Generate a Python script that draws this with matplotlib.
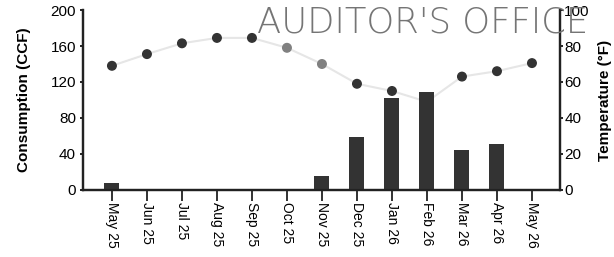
import numpy as np
import matplotlib
matplotlib.use("Agg")
import matplotlib.pyplot as plt
from matplotlib import font_manager

months = ["May 25", "Jun 25", "Jul 25", "Aug 25", "Sep 25", "Oct 25", "Nov 25",
          "Dec 25", "Jan 26", "Feb 26", "Mar 26", "Apr 26", "May 26"]
consumption = [8, 0, 0, 0, 0, 0, 15, 59, 102, 109, 44, 51, 0]
temperature = [69, 75.5, 81.5, 84.5, 84.5, 79, 70, 59, 55, 49, 63, 66, 70.5]
temp_colors = ["#333333"] * 5 + ["#808080", "#808080"] + ["#333333"] * 6

names = {f.name for f in font_manager.fontManager.ttflist}
font = "Liberation Sans Narrow" if "Liberation Sans Narrow" in names else "Liberation Sans"
plt.rcParams["font.family"] = [font, "DejaVu Sans"]

fig = plt.figure(figsize=(6.14, 2.57), dpi=100)
ax1 = fig.add_axes([0.135, 0.261, 0.777, 0.700])
ax2 = ax1.twinx()
ax1.set_zorder(2)
ax2.set_zorder(1)
ax1.patch.set_visible(False)

x = np.arange(len(months))
ax1.bar(x, consumption, width=0.43, color="#333333")
ax2.plot(x, temperature, color="#e6e6e6", lw=1.5, zorder=1)
ax2.scatter(x, temperature, s=38, c=temp_colors, zorder=2)

ax1.set_xlim(-0.83, 12.8)
ax1.set_ylim(0, 200)
ax2.set_ylim(0, 100)
ax1.set_yticks([0, 40, 80, 120, 160, 200])
ax2.set_yticks([0, 20, 40, 60, 80, 100])
ax1.set_xticks(x)
ax1.set_xticklabels(months, rotation=270, fontsize=10)
ax1.tick_params(axis="x", length=8, width=1.3, color="#222222", pad=1)
ax1.tick_params(axis="y", length=2, width=1.2, labelsize=11, pad=3)
ax2.tick_params(axis="y", length=2, width=1.2, labelsize=11, pad=1)

for ax in (ax1, ax2):
    ax.spines["top"].set_visible(False)
    for s in ("left", "right", "bottom"):
        ax.spines[s].set_linewidth(1.6)
        ax.spines[s].set_color("#222222")

ax1.set_ylabel("Consumption (CCF)", fontsize=11, fontweight="bold", labelpad=14)
ax2.set_ylabel("Temperature (°F)", fontsize=11, fontweight="bold", labelpad=6)

fig.text(0.418, 0.912, "AUDITOR'S OFFICE", fontsize=25.5, color="#757575",
         family=["DejaVu Sans"], fontweight="light", va="center")

fig.savefig("out.png", dpi=100)
